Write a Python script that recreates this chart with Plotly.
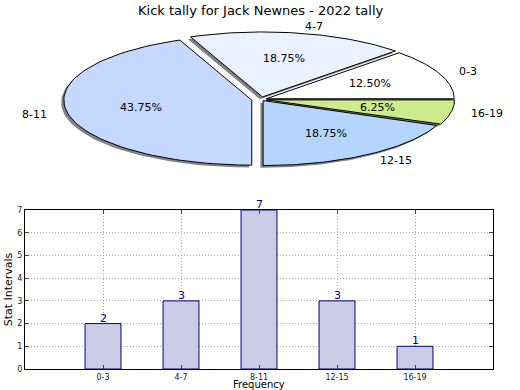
import numpy as np
import plotly.graph_objects as go

title = "Kick tally for Jack Newnes - 2022 tally"
categories = ["0-3", "4-7", "8-11", "12-15", "16-19"]
counts = [2, 3, 7, 3, 1]
explode = [0.03, 0.04, 0.05, 0.02, 0.03]
pie_colors = ["#ffffff", "#ebf2ff", "#c5d8ff", "#b4d5ff", "#cdea8c"]
bar_fill = "#cccce6"
bar_edge = "#000080"
y_title = "Stat Intervals"
x_title = "Frequency"

FONT = "DejaVu Sans"
fig = go.Figure()

# ---- pie (elliptical, drawn on its own axes) ----
total = sum(counts)
fracs = [c / total for c in counts]
start = 0.0
wedges = []
for frac, ex in zip(fracs, explode):
    t1 = start + 360 * frac
    mid = np.deg2rad((start + t1) / 2)
    cx, cy = ex * np.cos(mid), ex * np.sin(mid)
    ang = np.deg2rad(np.linspace(start, t1, 80))
    xs = np.concatenate([[cx], cx + np.cos(ang), [cx]])
    ys = np.concatenate([[cy], cy + np.sin(ang), [cy]])
    wedges.append((xs, ys, mid, cx, cy, frac))
    start = t1

sdx, sdy = -0.014, -0.035
for xs, ys, *_ in wedges:
    fig.add_trace(go.Scatter(x=xs + sdx, y=ys + sdy, mode="lines", fill="toself",
                             fillcolor="rgba(90,90,90,0.75)", line=dict(width=0),
                             xaxis="x2", yaxis="y2", hoverinfo="skip", showlegend=False))
for (xs, ys, mid, cx, cy, frac), col in zip(wedges, pie_colors):
    fig.add_trace(go.Scatter(x=xs, y=ys, mode="lines", fill="toself", fillcolor=col,
                             line=dict(color="black", width=1),
                             xaxis="x2", yaxis="y2", hoverinfo="skip", showlegend=False))

annotations = []
for (xs, ys, mid, cx, cy, frac), lab in zip(wedges, categories):
    lx, ly = cx + 1.1 * np.cos(mid), cy + 1.1 * np.sin(mid)
    annotations.append(dict(x=lx, y=ly, xref="x2", yref="y2", text=lab, showarrow=False,
                            xanchor="left" if lx > 0 else "right", yanchor="middle",
                            font=dict(family=FONT, size=11, color="black")))
    px, py = cx + 0.6 * np.cos(mid), cy + 0.6 * np.sin(mid)
    annotations.append(dict(x=px, y=py, xref="x2", yref="y2", text=f"{frac*100:.2f}%",
                            showarrow=False, xanchor="center", yanchor="middle",
                            font=dict(family=FONT, size=11, color="black")))

# ---- bar chart ----
xpos = list(range(1, len(categories) + 1))
fig.add_trace(go.Bar(x=xpos, y=counts, width=0.46, marker=dict(color=bar_fill,
                     line=dict(color=bar_edge, width=1)), xaxis="x", yaxis="y",
                     hoverinfo="skip", showlegend=False))
for xp, c in zip(xpos, counts):
    annotations.append(dict(x=xp, y=c, xref="x", yref="y", text=str(c), showarrow=False,
                            xanchor="center", yanchor="bottom", yshift=-3,
                            font=dict(family=FONT, size=11, color=bar_edge)))

annotations.append(dict(x=0.5, y=1, xref="paper", yref="paper", yshift=-1, text=title,
                        showarrow=False, xanchor="center", yanchor="top",
                        font=dict(family=FONT, size=13, color="black")))

W, H = 520, 390
x_dom = [25 / W, 493 / W]
annotations.append(dict(x=sum(x_dom) / 2, y=0, xref="paper", yref="paper", yshift=-1,
                        text=x_title, showarrow=False, xanchor="center", yanchor="bottom",
                        borderpad=0, font=dict(family=FONT, size=10, color="black")))

grid = dict(showgrid=True, gridcolor="#a8a8a8", griddash="1px,2px", gridwidth=1, zeroline=False)
fig.update_layout(
    width=W, height=H, margin=dict(l=0, r=0, t=0, b=0, autoexpand=False),
    paper_bgcolor="white", plot_bgcolor="white",
    font=dict(family=FONT, color="black"),
    annotations=annotations,
    xaxis2=dict(domain=[0, 1], range=[-261 / 188, 259 / 188], visible=False, anchor="y2",
                automargin=False),
    yaxis2=dict(domain=[0.5, 1], range=[(99.5 - 195) / 65, 99.5 / 65], visible=False,
                anchor="x2", automargin=False),
    xaxis=dict(domain=x_dom, range=[0, 6], anchor="y", automargin=False,
               tickmode="array", tickvals=xpos, ticktext=categories,
               tickfont=dict(size=8, family=FONT, color="#222"), ticks="inside", ticklen=4,
               ticklabelstandoff=0,
               showline=True, linecolor="black", linewidth=1, mirror="ticks",
               **grid),
    yaxis=dict(domain=[21 / H, 180 / H], range=[0, 7], anchor="x", dtick=1, automargin=False,
               tickfont=dict(size=8, family=FONT, color="#222"), ticks="inside", ticklen=4,
               showline=True, linecolor="black", linewidth=1, mirror="ticks",
               title=dict(text=y_title, font=dict(size=11, family=FONT), standoff=2),
               **grid),
)
fig.update_traces(cliponaxis=False, selector=dict(type="bar"))
fig.write_html("out.html", config={"displayModeBar": False},
               post_script="document.body.style.margin='0';document.body.style.overflow='hidden';")
